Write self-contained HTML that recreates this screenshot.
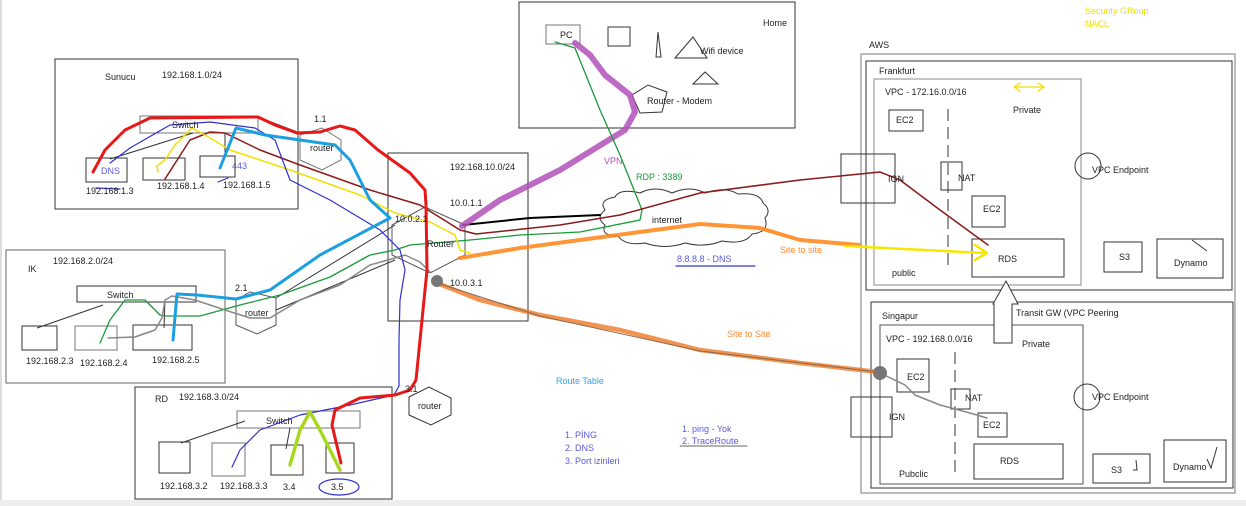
<!DOCTYPE html>
<html><head><meta charset="utf-8"><style>
html,body{margin:0;padding:0;background:#fff;}
svg{display:block;}
text{font-family:"Liberation Sans",sans-serif;font-size:9px;fill:#222;}
.b{fill:#5a5ae0;}
</style></head><body>
<svg width="1246" height="506" viewBox="0 0 1246 506" xmlns="http://www.w3.org/2000/svg">
<rect x="0" y="0" width="1246" height="506" fill="#fff"/>
<rect x="0" y="0" width="2" height="506" fill="#ddd"/>
<rect x="0" y="500" width="1246" height="6" fill="#eee"/>
<g fill="none" stroke="#333" stroke-width="1">
<!-- Sunucu -->
<rect x="55" y="59" width="243" height="150"/>
<rect x="140" y="116" width="118" height="17" stroke="#777"/>
<rect x="86" y="158" width="41" height="24"/>
<rect x="143" y="158" width="42" height="22"/>
<rect x="200" y="156" width="35" height="21"/>
<path d="M110 159 L193 133 M258 117 L300 133 M225 133 L225 156"/>
<polygon points="300,135 322,128 341,140 341,160 322,170 300,160" stroke="#777"/>
<!-- central -->
<rect x="388" y="153" width="140" height="168"/>
<polygon points="392,225 425,207 465,225 465,255 430,273 392,255" stroke="#555"/>
<!-- IK -->
<rect x="6" y="250" width="219" height="133" stroke="#666"/>
<rect x="77" y="286" width="119" height="16"/>
<rect x="22" y="326" width="35" height="24"/>
<rect x="75" y="326" width="42" height="24" stroke="#777"/>
<rect x="133" y="325" width="59" height="25"/>
<path d="M37 328 L103 305 M165 300 L164 328"/>
<polygon points="236,300 250,292 276,298 276,325 257,334 236,325" stroke="#555"/>
<path d="M276 298 L395 225 M276 310 L395 260"/>
<!-- RD -->
<rect x="135" y="387" width="257" height="112"/>
<rect x="237" y="411" width="123" height="17" stroke="#777"/>
<rect x="159" y="442" width="31" height="31"/>
<rect x="212" y="443" width="33" height="33" stroke="#777"/>
<rect x="271" y="445" width="32" height="30"/>
<rect x="326" y="443" width="28" height="30"/>
<path d="M181 443 L245 421 M286 449 L290 428"/>
<polygon points="409,397 429,387 451,398 451,415 431,425 409,415"/>
<!-- Home -->
<rect x="519" y="2" width="276" height="126"/>
<rect x="546" y="25" width="34" height="19" stroke="#777"/>
<rect x="608" y="27" width="22" height="19"/>
<polygon points="658,32 661,57 656,57"/>
<polygon points="675,58 693,37 707,58"/>
<polygon points="693,84 705,72 718,84"/>
<polygon points="632,95 648,85 667,92 662,112 640,113"/>
<!-- cloud -->
<path d="M605 210 Q598 200 615 197 Q620 188 640 193 Q655 185 672 193 Q690 185 705 193 Q725 186 738 194 Q760 192 763 203 Q772 210 765 218 Q770 232 752 234 Q745 245 722 241 Q705 248 685 243 Q665 250 645 243 Q625 246 618 236 Q600 236 605 225 Q595 218 605 210 Z"/>
<!-- AWS -->
<rect x="861" y="54" width="374" height="439" stroke="#777"/>
<rect x="866" y="61" width="366" height="229"/>
<rect x="874" y="79" width="207" height="206" stroke="#888"/>
<rect x="889" y="110" width="34" height="21"/>
<path d="M948 109 L948 270" stroke-dasharray="12,6"/>
<rect x="941" y="162" width="21" height="28"/>
<rect x="972" y="196" width="33" height="31"/>
<rect x="972" y="239" width="92" height="38"/>
<rect x="841" y="154" width="54" height="49"/>
<circle cx="1088" cy="166" r="13"/>
<rect x="1104" y="242" width="38" height="30"/>
<rect x="1157" y="239" width="66" height="39"/>
<path d="M1192 240 L1207 251"/>
<rect x="871" y="302" width="362" height="186"/>
<rect x="880" y="325" width="203" height="159" stroke="#555"/>
<rect x="897" y="359" width="32" height="33"/>
<path d="M955 352 L955 475" stroke-dasharray="12,6"/>
<rect x="951" y="389" width="19" height="20"/>
<rect x="978" y="413" width="29" height="24"/>
<rect x="974" y="444" width="89" height="35"/>
<rect x="851" y="397" width="41" height="40"/>
<circle cx="1087" cy="397" r="13"/>
<rect x="1093" y="454" width="57" height="29"/>
<rect x="1164" y="440" width="62" height="42"/>
<path d="M1207 459 L1211 468 L1217 447 M1136 460 L1137 470 L1133 470"/>
<polygon points="994,343 1012,343 1012,304 1018,304 1006,281 993,304 994,304" fill="#fff"/>
</g>
<!-- colored connectors -->
<g fill="none" stroke-linecap="round" stroke-linejoin="round">
<path d="M600 215 L530 218 L463 225" stroke="#000" stroke-width="2"/>
<path d="M575 43 L590 55 L605 75 L630 95 L635 112 L625 130 L560 170 L500 200 L462 226" stroke="#b050b8" stroke-width="6" opacity="0.85"/>
<path d="M555 42 L575 48 L600 110 L620 155 L642 210 L640 220 L580 232 L520 235 L470 240 L410 245 L395 250 L370 255 L330 277 L280 295 L240 305 L200 316 L165 316 L160 315 L145 300 L125 300 L110 320 L100 343" stroke="#1a9a3a" stroke-width="1.3"/>
<path d="M108 338 L135 337 L155 330 L162 318 L165 300 L172 296 L195 300 L225 310 L250 318 L270 318 L300 300 L340 285 L370 265 L395 258 L405 255 L420 262 L430 272" stroke="#888" stroke-width="1.5"/>
<path d="M880 373 L905 385 L915 395 L940 405 L970 413 L987 418" stroke="#888" stroke-width="1.5"/>
<path d="M165 179 L190 140 L210 132 L225 133 L260 150 L300 165 L370 190 L420 205 L460 230 L476 234 L560 225 L620 215 L700 193 L800 180 L880 172 L900 180 L940 210 L988 245" stroke="#8b1a1a" stroke-width="1.5"/>
<path d="M158 172 L157 166 L165 160 L175 145 L192 128 L205 135 L230 150 L290 170 L360 195 L395 213 L430 222 L455 235 L460 250 L470 253" stroke="#f0e000" stroke-width="1.5"/>
<path d="M110 163 L130 148 L170 125 L210 122 L255 128 L275 140 L290 180 L330 200 L380 230 L400 250 L405 270 L400 300 L399 340 L399 386 L394 395 L350 405 L300 415 L260 430 L240 450 L232 467" stroke="#3030d0" stroke-width="1.2"/>
<path d="M220 168 L236 128 L265 135 L300 140 L335 145 L350 160 L370 200 L390 218 L320 255 L270 290 L236 299 L197 295 L177 294 L173 340" stroke="#1aa0e0" stroke-width="3"/>
<path d="M93 172 L105 150 L125 130 L150 118 L258 117 L275 125 L297 133 L320 132 L340 126 L355 130 L378 150 L410 173 L425 190 L426 205 L427 270 L420 340 L416 380 L410 390 L395 395 L360 398 L335 410 L332 425 L341 463" stroke="#e81818" stroke-width="3"/>
<path d="M290 465 L300 430 L310 412 L320 430 L335 460 L340 470" stroke="#a8d820" stroke-width="3.5"/>
<path d="M460 258 L520 248 L580 240 L640 232 L700 224 L760 228 L800 240 L860 245" stroke="#ff8a20" stroke-width="4" opacity="0.9"/>
<path d="M845 246 L985 253 M975 245 L987 253 L975 260" stroke="#f5e800" stroke-width="2.5"/>
<path d="M437 283 L480 300 L540 315 L620 330 L700 350 L800 363 L878 372" stroke="#f08030" stroke-width="4.5" opacity="0.85"/>
<path d="M437 283 L540 316 L700 351 L878 372" stroke="#8a6a50" stroke-width="1"/>
<path d="M1015 87 L1043 87 M1020 83 L1014 87 L1020 91 M1038 83 L1044 87 L1038 91" stroke="#f0e000" stroke-width="1.3"/>
<path d="M676 266 L755 266" stroke="#3030d0" stroke-width="1.2"/>
<path d="M680 446 L747 446" stroke="#333" stroke-width="0.8"/>
<path d="M96 188 L120 189 M218 182 L228 178" stroke="#3030d0" stroke-width="1.2"/>
<ellipse cx="339" cy="487" rx="20" ry="8" stroke="#3030d0" stroke-width="1.2"/>
</g>
<circle cx="437" cy="281" r="6" fill="#777"/>
<circle cx="880" cy="373" r="7" fill="#777"/>
<!-- labels -->
<text x="105" y="80">Sunucu</text><text x="162" y="78">192.168.1.0/24</text>
<text x="172" y="128">Switch</text>
<text x="101" y="174" class="b">DNS</text><text x="232" y="169" class="b">443</text>
<text x="86" y="194">192.168.1.3</text><text x="157" y="189">192.168.1.4</text><text x="223" y="188">192.168.1.5</text>
<text x="314" y="122">1.1</text><text x="310" y="151">router</text>
<text x="450" y="170">192.168.10.0/24</text><text x="450" y="206">10.0.1.1</text><text x="395" y="222">10.0.2.1</text>
<text x="427" y="247">Router</text><text x="450" y="286">10.0.3.1</text>
<text x="53" y="264">192.168.2.0/24</text><text x="28" y="272">IK</text>
<text x="107" y="298">Switch</text>
<text x="26" y="364">192.168.2.3</text><text x="80" y="366">192.168.2.4</text><text x="152" y="363">192.168.2.5</text>
<text x="235" y="291">2.1</text><text x="245" y="316">router</text>
<text x="155" y="402">RD</text><text x="179" y="400">192.168.3.0/24</text>
<text x="266" y="424">Switch</text>
<text x="160" y="489">192.168.3.2</text><text x="220" y="489">192.168.3.3</text><text x="283" y="490">3.4</text><text x="331" y="490">3.5</text>
<text x="405" y="392">3.1</text><text x="418" y="409">router</text>
<text x="560" y="38">PC</text><text x="763" y="26">Home</text><text x="700" y="54">Wifi device</text><text x="647" y="104">Router - Modem</text>
<text x="604" y="164" style="fill:#b050b8">VPN</text><text x="636" y="180" style="fill:#1a9a3a">RDP : 3389</text>
<text x="652" y="223">internet</text>
<text x="677" y="262" class="b">8.8.8.8 - DNS</text>
<text x="780" y="253" style="fill:#ff8a30">Site to site</text><text x="727" y="337" style="fill:#ff8a30">Site to Site</text>
<text x="556" y="384" style="fill:#30a0f0">Route Table</text>
<text x="565" y="438" class="b">1. PİNG</text><text x="565" y="451" class="b">2. DNS</text><text x="565" y="464" class="b">3. Port izinleri</text>
<text x="682" y="432" class="b">1. ping  - Yok</text><text x="682" y="444" class="b">2. TraceRoute</text>
<text x="1085" y="14" style="fill:#f0e000">Security GRoup</text><text x="1085" y="27" style="fill:#f0e000">NACL</text>
<text x="869" y="48">AWS</text><text x="879" y="74">Frankfurt</text><text x="885" y="95">VPC - 172.16.0.0/16</text>
<text x="896" y="123">EC2</text><text x="1013" y="113">Private</text><text x="958" y="181">NAT</text><text x="983" y="212">EC2</text>
<text x="888" y="182">IGN</text><text x="1092" y="173">VPC Endpoint</text><text x="998" y="262">RDS</text><text x="892" y="276">public</text>
<text x="1119" y="260">S3</text><text x="1174" y="266">Dynamo</text>
<text x="1016" y="316">Transit GW (VPC Peering</text>
<text x="882" y="319">Singapur</text><text x="886" y="342">VPC - 192.168.0.0/16</text><text x="1022" y="347">Private</text>
<text x="907" y="380">EC2</text><text x="965" y="401">NAT</text><text x="983" y="428">EC2</text><text x="889" y="420">IGN</text>
<text x="1092" y="400">VPC Endpoint</text><text x="1000" y="464">RDS</text><text x="899" y="477">Pubclic</text>
<text x="1111" y="473">S3</text><text x="1173" y="470">Dynamo</text>
</svg>
</body></html>
